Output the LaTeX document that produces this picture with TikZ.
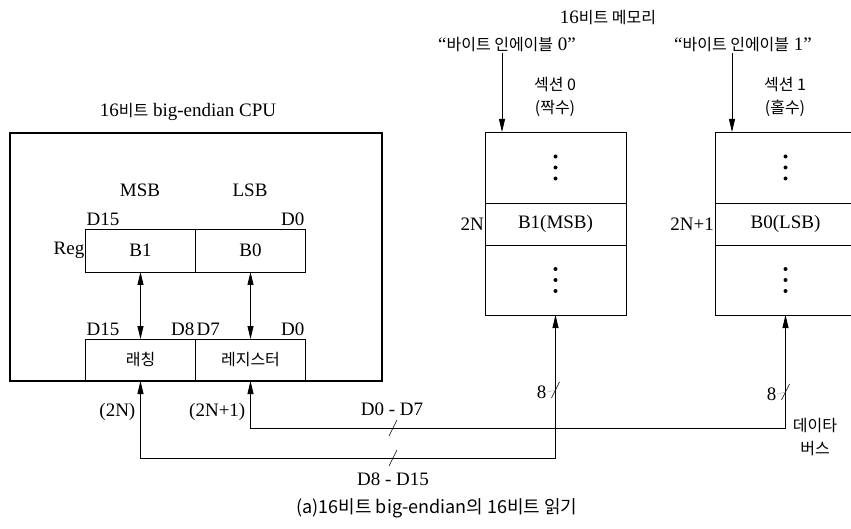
\documentclass[tikz,border=0pt]{standalone}
\usepackage{fontspec}
\setmainfont{Liberation Serif}
\newfontfamily\kr{Noto Sans CJK KR}
\usetikzlibrary{arrows.meta,positioning,calc}

\newcommand\lbl{\fontsize{19}{21}\selectfont}
\newcommand\krlbl{\kr\fontsize{16}{23}\selectfont}

\begin{document}
\begin{tikzpicture}[x=1pt, y=-1pt,
  % ── boxes ──
  cpubox/.style={draw=black, line width=2.6pt, inner sep=0pt},
  regcell/.style={draw=black, line width=0.9pt, minimum width=110pt,
                  minimum height=43pt, inner sep=0pt, outer sep=0pt, font=\lbl},
  memcell/.style={draw=black, line width=0.9pt, minimum width=141pt,
                  inner sep=0pt, outer sep=0pt, font=\lbl},
  % ── text ──
  lbl/.style={font=\lbl, inner sep=1pt},
  krlbl/.style={font=\krlbl, inner sep=1pt, align=center},
  % ── arrows ──
  arr/.style={-{Triangle[length=13pt,width=6pt]}, line width=0.8pt},
  darr/.style={{Triangle[length=13pt,width=6pt]}-{Triangle[length=13pt,width=6pt]},
               line width=0.8pt},
  slash/.style={line width=0.6pt},
]

%% ─── frame (y runs downwards, 1pt = 1px) ──────────────────────
\useasboundingbox (0,0) rectangle (851,529);
\clip (0,0) rectangle (851,529);

%% ─── 1. CPU ───────────────────────────────────────────────────
\node[cpubox, minimum width=372pt, minimum height=248pt] (cpu) at (196,257) {};
\node[lbl] (cputitle) at (188,112) {16{\krlbl 비트} big-endian CPU};

% register row
\node[regcell] (b1) at (140.5,250.5) {B1};
\node[regcell, right=0pt of b1] (b0) {B0};
\node[lbl, anchor=east] (regname) at (b1.west) {Reg};
\node[lbl] (msb) at (140,190) {MSB};
\node[lbl] (lsb) at (250,190) {LSB};
\node[lbl, anchor=south west, yshift=2pt] (d15a) at (b1.north west) {D15};
\node[lbl, anchor=south east, yshift=2pt] (d0a)  at (b0.north east) {D0};

% latch row
\node[regcell, minimum height=42pt] (lat) at (140.5,360) {{\krlbl 래칭}};
\node[regcell, minimum height=42pt, right=0pt of lat] (reg) {{\krlbl 레지스터}};
\node[lbl, anchor=south west, yshift=2pt] (d15b) at (lat.north west) {D15};
\node[lbl, anchor=south east, yshift=2pt] (d8b)  at (lat.north east) {D8};
\node[lbl, anchor=south west, yshift=2pt] (d7b)  at (reg.north west) {D7};
\node[lbl, anchor=south east, yshift=2pt] (d0b)  at (reg.north east) {D0};

\draw[darr] (b1.south) -- (lat.north);
\draw[darr] (b0.south) -- (reg.north);

%% ─── 2. memory sections ───────────────────────────────────────
\node[lbl] (memtitle) at (608,18) {16{\krlbl 비트 메모리}};

\node[memcell, minimum height=71pt] (m0top) at (555.5,167.5) {};
\node[memcell, minimum height=42pt, below=0pt of m0top] (m0mid) {B1(MSB)};
\node[memcell, minimum height=70pt, below=0pt of m0mid] (m0bot) {};
\node[lbl, anchor=east] (adr0) at (m0mid.west) {2N};

\node[memcell, minimum height=71pt] (m1top) at (785.5,167.5) {};
\node[memcell, minimum height=42pt, below=0pt of m1top] (m1mid) {B0(LSB)};
\node[memcell, minimum height=70pt, below=0pt of m1mid] (m1bot) {};
\node[lbl, anchor=east] (adr1) at (m1mid.west) {2N+1};

% vertical dots
\foreach \m in {m0top,m0bot,m1top,m1bot}
  \foreach \d in {-11,0,11}
    \fill (\m.center) ++(0,\d) circle (2pt);

\node[krlbl] (sec0) at (555,97) {섹션 0\\(짝수)};
\node[krlbl] (sec1) at (785,97) {섹션 1\\(홀수)};

% byte enables
\node[lbl] (en0) at (507,45) {“{\krlbl 바이트 인에이블} 0”};
\node[lbl] (en1) at (743,45) {“{\krlbl 바이트 인에이블} 1”};
\coordinate (e0) at ($(m0top.north west)+(17,0)$);
\coordinate (e1) at ($(m1top.north west)+(17,0)$);
\draw[arr] (e0 |- en0.south) -- (e0);
\draw[arr] (e1 |- en1.south) -- (e1);

%% ─── 3. data bus ──────────────────────────────────────────────
\coordinate (bus0) at (m0bot.south |- 0,458);
\coordinate (bus1) at (m1bot.south |- 0,428);
\draw[arr] (bus0) -- (m0bot.south);
\draw[arr] (bus0) -| (lat.south);
\draw[arr] (bus1) -- (m1bot.south);
\draw[arr] (bus1) -| (reg.south);

% width marks
\coordinate (s0) at (393,428);
\coordinate (s1) at (393,458);
\coordinate (s2) at (m0bot.south |- 0,390);
\coordinate (s3) at (m1bot.south |- 0,392);
\foreach \s in {s0,s1,s2,s3}
  \draw[slash] ($(\s)+(-4,8)$) -- ($(\s)+(4,-8)$);

\node[lbl] (w0) at (392,409) {D0 - D7};
\node[lbl] (w1) at (393,479) {D8 - D15};
\node[lbl, anchor=east] (n0) at ($(s2)+(-8,2)$) {8};
\node[lbl, anchor=east] (n1) at ($(s3)+(-8,2)$) {8};
\draw[densely dotted, thin] (n0.east) -- (s2);
\draw[densely dotted, thin] (n1.east) -- (s3);

\node[lbl, anchor=east] (a0) at ($(lat.south)+(-4,31)$) {(2N)};
\node[lbl, anchor=east] (a1) at ($(reg.south)+(-4,31)$) {(2N+1)};
\node[krlbl] (busname) at (815,437) {데이타\\버스};

%% ─── 4. caption ───────────────────────────────────────────────
\node[font=\kr\fontsize{18}{20}\selectfont] (cap) at (437,508)
  {(a)16비트 big-endian의 16비트 읽기};

\end{tikzpicture}
\end{document}
